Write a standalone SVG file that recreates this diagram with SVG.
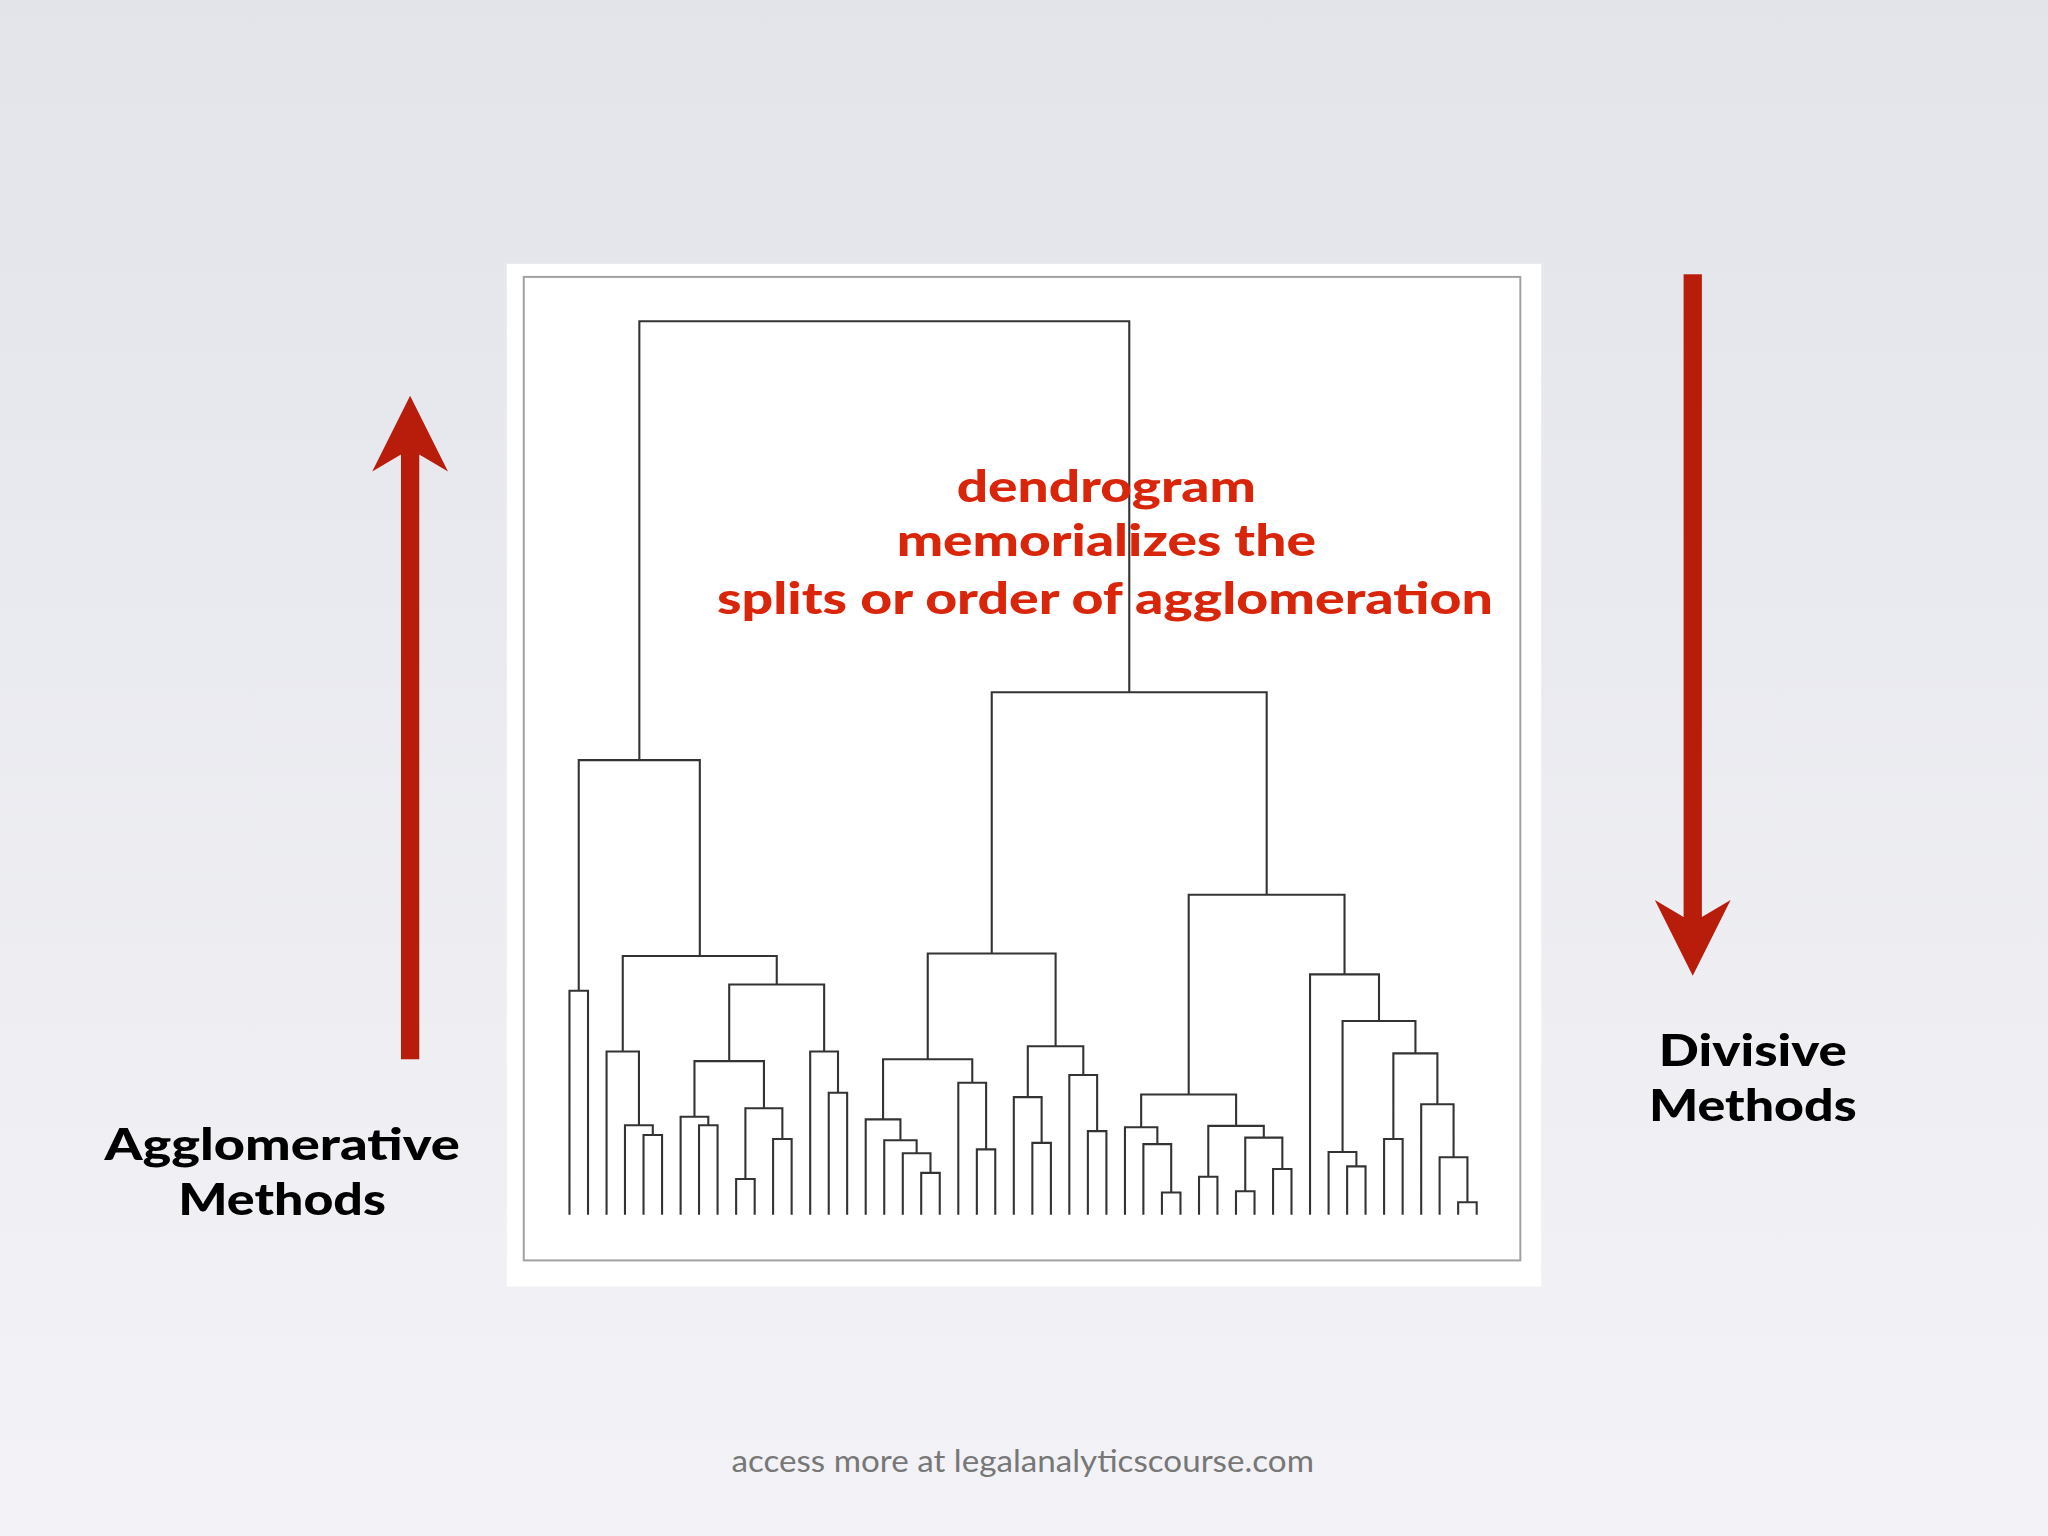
<svg xmlns="http://www.w3.org/2000/svg" width="2048" height="1536" viewBox="0 0 2048 1536">
<defs>
<linearGradient id="bg" x1="0" y1="0" x2="0" y2="1"><stop offset="0" stop-color="#e3e4ea"/><stop offset="1" stop-color="#f3f3f7"/></linearGradient>
<style>
.d{fill:none;stroke:#333;stroke-width:1.6;stroke-linejoin:miter}
.lab{font-family:Lato,"Open Sans",sans-serif;font-weight:900;font-size:34px;fill:#000;text-anchor:middle}
.red{font-family:Lato,"Open Sans",sans-serif;font-weight:900;font-size:34px;fill:#d9260b;text-anchor:middle}
.arr{fill:#b81d0b}
</style>
</defs>
<rect width="2048" height="1536" fill="url(#bg)"/>
<g transform="scale(1.30612)">
<g id="panel"><rect x="388" y="202" width="792" height="783" fill="#fff"/><rect x="401" y="212" width="763" height="753" fill="none" stroke="#a0a0a0" stroke-width="1.5"/></g>
<g id="dendrogram-connectors">
<path class="d" d="M436 930V758.5H450.2V930
M492.7 930V869H506.9V930
M478.5 930V861.5H499.8V869
M464.4 930V805H489.2V861.5
M535.2 930V861.5H549.4V930
M521.1 930V855H542.3V861.5
M563.6 930V902.7H577.8V930
M591.9 930V872H606.1V930
M570.7 902.7V848.5H599V872
M531.7 855V812.4H584.9V848.5
M634.5 930V836.6H648.6V930
M620.3 930V805H641.6V836.6
M558.3 812.4V753.7H631V805
M476.8 805V732H594.7V753.7
M443.1 758.5V582H535.8V732
M705.3 930V898H719.5V930
M691.2 930V883H712.4V898
M677 930V873H701.8V883
M662.8 930V857H689.4V873
M747.9 930V880H762V930
M733.7 930V829H755V880
M676.1 857V811H744.4V829
M790.4 930V875H804.6V930
M776.2 930V840H797.5V875
M832.9 930V866H847.1V930
M818.7 930V823H840V866
M786.9 840V801H829.4V823
M710.3 811V730H808.2V801
M889.6 930V913H903.8V930
M875.4 930V876H896.7V913
M861.3 930V863H886.1V876
M918 930V901H932.1V930
M946.3 930V912H960.5V930
M974.7 930V895H988.8V930
M953.4 912V871H981.8V895
M925.1 901V862H967.6V871
M873.7 863V838H946.4V862
M1031.4 930V893H1045.5V930
M1017.2 930V882H1038.5V893
M1059.7 930V872H1073.9V930
M1116.4 930V920.5H1130.6V930
M1102.2 930V886H1123.5V920.5
M1088.1 930V845.5H1112.9V886
M1066.8 872V806.5H1100.5V845.5
M1027.9 882V781.7H1083.7V806.5
M1003 930V746H1055.8V781.7
M910.1 838V685H1029.4V746
M759.3 730V530H969.8V685
M489.5 582V246H864.6V530"/>
</g>
<g id="arrow-up"><rect class="arr" x="307" y="345" width="14" height="466"/><polygon class="arr" points="314,303 343,361 321,348 307,348 285,361"/></g>
<g id="arrow-down"><rect class="arr" x="1289" y="210" width="14" height="520"/><polygon class="arr" points="1296,747 1325,689 1303,702 1289,702 1267,689"/></g>
<g id="label-agglomerative"><text class="lab" x="216" y="888" textLength="272" lengthAdjust="spacingAndGlyphs">Agglomerative</text><text class="lab" x="216" y="930" textLength="159" lengthAdjust="spacingAndGlyphs">Methods</text></g>
<g id="label-divisive"><text class="lab" x="1342" y="816" textLength="144" lengthAdjust="spacingAndGlyphs">Divisive</text><text class="lab" x="1342" y="858" textLength="159" lengthAdjust="spacingAndGlyphs">Methods</text></g>
<g id="caption"><text class="red" x="847" y="384" textLength="229" lengthAdjust="spacingAndGlyphs">dendrogram</text><text class="red" x="847" y="426" textLength="321" lengthAdjust="spacingAndGlyphs">memorializes the</text><text class="red" x="846" y="470" textLength="594" lengthAdjust="spacingAndGlyphs">splits or order of agglomeration</text></g>
<text x="783" y="1127" font-family="Lato,'Open Sans',sans-serif" font-size="23" fill="#777" text-anchor="middle" textLength="446" lengthAdjust="spacingAndGlyphs">access more at legalanalyticscourse.com</text>
</g>
</svg>
